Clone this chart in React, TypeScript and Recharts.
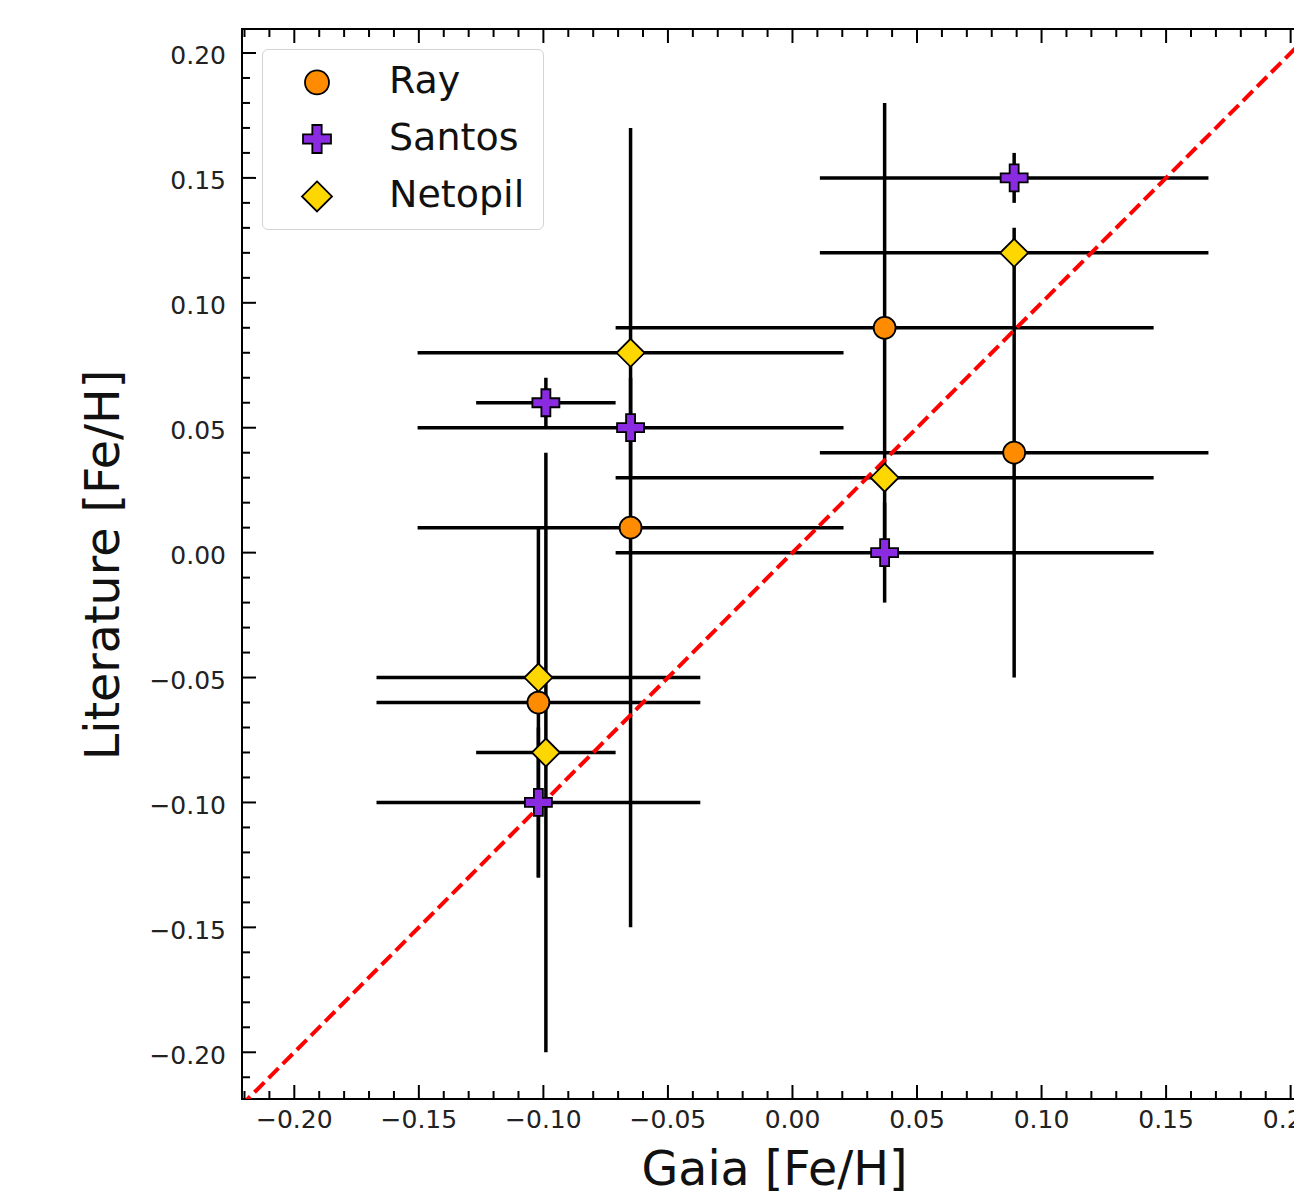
import React from 'react';
import {
  ScatterChart,
  Scatter,
  XAxis,
  YAxis,
  ErrorBar,
  ReferenceLine,
  ReferenceArea,
  Label,
} from 'recharts';

// Ray
const rayX = [-0.102, -0.065, 0.037, 0.089];
const rayY = [-0.06, 0.01, 0.09, 0.04];
const rayXErr = [0.065, 0.0855, 0.108, 0.078];
const rayYErr = [0.07, 0.16, 0.09, 0.09];

// Santos
const santosX = [-0.099, -0.065, 0.037, 0.089, -0.102];
const santosY = [0.06, 0.05, 0.0, 0.15, -0.1];
const santosXErr = [0.028, 0.0855, 0.108, 0.078, 0.065];
const santosYErr = [0.01, 0.02, 0.02, 0.01, 0.03];

// Netopil
const netopilX = [-0.102, -0.099, -0.065, 0.037, 0.089];
const netopilY = [-0.05, -0.08, 0.08, 0.03, 0.12];
const netopilXErr = [0.065, 0.028, 0.0855, 0.108, 0.078];
const netopilYErr = [0, 0.12, 0, 0, 0];

const seriesNames = ['Ray', 'Santos', 'Netopil'];

const xMajorTicks = [-0.2, -0.15, -0.1, -0.05, 0, 0.05, 0.1, 0.15, 0.2];
const yMajorTicks = [-0.2, -0.15, -0.1, -0.05, 0, 0.05, 0.1, 0.15, 0.2];

const X_DOMAIN: [number, number] = [-0.221, 0.215];
const Y_DOMAIN: [number, number] = [-0.2187, 0.2096];
const ONE_TO_ONE = [-0.25, 0.25];

// minor ticks every 0.01
const minorSteps = (lo: number, hi: number) => {
  const out: number[] = [];
  for (let i = Math.ceil(lo * 100 - 1e-6); i <= Math.floor(hi * 100 + 1e-6); i++) out.push(i / 100);
  return out;
};
const xTicks = minorSteps(X_DOMAIN[0], X_DOMAIN[1]);
const yTicks = minorSteps(Y_DOMAIN[0], Y_DOMAIN[1]);

const build = (xs: number[], ys: number[], xe: number[], ye: number[]) =>
  xs.map((x, i) => ({ x, y: ys[i], xErr: xe[i], yErr: ye[i] }));

const rayData = build(rayX, rayY, rayXErr, rayYErr);
const santosData = build(santosX, santosY, santosXErr, santosYErr);
const netopilData = build(netopilX, netopilY, netopilXErr, netopilYErr);

const X_SCALE = 2490; // px per unit
const PLOT_LEFT = 234;
const PLOT_TOP = 21;
const PLOT_W = Math.round((X_DOMAIN[1] - X_DOMAIN[0]) * X_SCALE);
const PLOT_H = 1070;
const PLOT_RIGHT = PLOT_LEFT + PLOT_W;
const PLOT_BOTTOM = PLOT_TOP + PLOT_H;
const CHART_W = PLOT_RIGHT + 10;
const CHART_H = 1187;

const FONT = '"DejaVu Sans", sans-serif';
const MAJOR_LEN = 14;
const MINOR_LEN = 8;

const isMajor = (v: number, majors: number[]) => majors.some((m) => Math.abs(m - v) < 1e-6);
const fmt = (v: number) => {
  const s = Math.abs(v).toFixed(2);
  return v < -1e-9 ? '\u2212' + s : s;
};

const XTick = (props: any) => {
  const { x, payload } = props;
  const v = payload.value;
  const major = isMajor(v, xMajorTicks);
  const len = major ? MAJOR_LEN : MINOR_LEN;
  return (
    <g>
      <line x1={x} x2={x} y1={PLOT_BOTTOM} y2={PLOT_BOTTOM - len} stroke="#000" strokeWidth={2} />
      <line x1={x} x2={x} y1={PLOT_TOP} y2={PLOT_TOP + len} stroke="#000" strokeWidth={2} />
      {major && (
        <text x={x} y={PLOT_BOTTOM + 29} textAnchor="middle" fontSize={25} fontFamily={FONT} fill="#222">
          {fmt(v)}
        </text>
      )}
    </g>
  );
};

const YTick = (props: any) => {
  const { y, payload } = props;
  const v = payload.value;
  const major = isMajor(v, yMajorTicks);
  const len = major ? MAJOR_LEN : MINOR_LEN;
  return (
    <g>
      <line x1={PLOT_LEFT} x2={PLOT_LEFT + len} y1={y} y2={y} stroke="#000" strokeWidth={2} />
      <line x1={PLOT_RIGHT} x2={PLOT_RIGHT - len} y1={y} y2={y} stroke="#000" strokeWidth={2} />
      {major && (
        <text x={PLOT_LEFT - 16} y={y + 11.5} textAnchor="end" fontSize={25} fontFamily={FONT} fill="#222">
          {fmt(v)}
        </text>
      )}
    </g>
  );
};

const COLORS = { ray: '#ff8c00', santos: '#8a2be2', netopil: '#ffd700' };
const EDGE = 1.8;

const plusPoints = (cx: number, cy: number, s: number) => {
  const a = s / 6;
  const b = s / 2;
  const pts = [
    [-a, -b], [a, -b], [a, -a], [b, -a], [b, a], [a, a],
    [a, b], [-a, b], [-a, a], [-b, a], [-b, -a], [-a, -a],
  ];
  return pts.map(([dx, dy]) => `${cx + dx},${cy + dy}`).join(' ');
};

const CircleMark = ({ cx, cy, r = 11 }: any) => (
  <circle cx={cx} cy={cy} r={r} fill={COLORS.ray} stroke="#000" strokeWidth={EDGE} />
);
const PlusMark = ({ cx, cy, s = 27 }: any) => (
  <polygon points={plusPoints(cx, cy, s)} fill={COLORS.santos} stroke="#000" strokeWidth={EDGE} strokeLinejoin="miter" />
);
const DiamondMark = ({ cx, cy, h = 14 }: any) => (
  <polygon
    points={`${cx},${cy - h} ${cx + h},${cy} ${cx},${cy + h} ${cx - h},${cy}`}
    fill={COLORS.netopil}
    stroke="#000"
    strokeWidth={EDGE}
  />
);
const Nothing = () => <g />;

const errProps = { stroke: '#000', strokeWidth: 3.5, width: 0 };

const XLabel = () => (
  <text x={766.5} y={1177} textAnchor="middle" fontSize={47.5} fontFamily={FONT} fill="#111">
    Gaia [Fe/H]
  </text>
);
const YLabel = () => (
  <text
    x={111}
    y={557}
    transform="rotate(-90, 111, 557)"
    textAnchor="middle"
    fontSize={47.5}
    fontFamily={FONT}
    fill="#111"
  >
    Literature [Fe/H]
  </text>
);

const LegendBox = () => {
  const rows = [32.4, 89, 146.4];
  const mx = 54;
  return (
    <div
      style={{
        position: 'absolute',
        left: 254,
        top: 41,
        width: 280,
        height: 179,
        border: '1.5px solid #d4d4d4',
        borderRadius: 6,
        background: 'rgba(255,255,255,0.85)',
      }}
    >
      <svg width={280} height={179} style={{ display: 'block' }}>
        <CircleMark cx={mx} cy={rows[0]} r={12} />
        <PlusMark cx={mx} cy={rows[1]} s={28} />
        <DiamondMark cx={mx} cy={rows[2]} h={15} />
        {seriesNames.map((n, i) => (
          <text key={n} x={126} y={rows[i] + 11} fontSize={38} fontFamily={FONT} fill="#111">
            {n}
          </text>
        ))}
      </svg>
    </div>
  );
};

const App = () => {
  return (
    <div style={{ position: 'relative', width: CHART_W, height: CHART_H, fontFamily: FONT }}>
      <style>{'html, body { overflow: hidden; }'}</style>
      <ScatterChart
        width={CHART_W}
        height={CHART_H}
        margin={{ top: PLOT_TOP, right: CHART_W - PLOT_RIGHT, left: 0, bottom: 0 }}
      >
        <XAxis
          type="number"
          dataKey="x"
          domain={X_DOMAIN}
          allowDataOverflow
          ticks={xTicks}
          interval={0}
          tick={XTick}
          tickLine={false}
          axisLine={false}
          height={CHART_H - PLOT_BOTTOM}
          label={<Label content={XLabel} />}
        />
        <YAxis
          type="number"
          dataKey="y"
          domain={Y_DOMAIN}
          allowDataOverflow
          ticks={yTicks}
          interval={0}
          tick={YTick}
          tickLine={false}
          axisLine={false}
          width={PLOT_LEFT}
          label={<Label content={YLabel} />}
        />
        {/* error bars first so markers sit on top */}
        <Scatter name="Ray-err" data={rayData} shape={Nothing} isAnimationActive={false} legendType="none">
          <ErrorBar dataKey="xErr" direction="x" {...errProps} />
          <ErrorBar dataKey="yErr" direction="y" {...errProps} />
        </Scatter>
        <Scatter name="Santos-err" data={santosData} shape={Nothing} isAnimationActive={false} legendType="none">
          <ErrorBar dataKey="xErr" direction="x" {...errProps} />
          <ErrorBar dataKey="yErr" direction="y" {...errProps} />
        </Scatter>
        <Scatter name="Netopil-err" data={netopilData} shape={Nothing} isAnimationActive={false} legendType="none">
          <ErrorBar dataKey="xErr" direction="x" {...errProps} />
          <ErrorBar dataKey="yErr" direction="y" {...errProps} />
        </Scatter>
        <Scatter name="Ray" data={rayData} shape={CircleMark} isAnimationActive={false} />
        <Scatter name="Santos" data={santosData} shape={PlusMark} isAnimationActive={false} />
        <Scatter name="Netopil" data={netopilData} shape={DiamondMark} isAnimationActive={false} />
        <ReferenceLine
          segment={[
            { x: ONE_TO_ONE[0], y: ONE_TO_ONE[0] },
            { x: ONE_TO_ONE[1], y: ONE_TO_ONE[1] },
          ]}
          ifOverflow="hidden"
          stroke="#ff0000"
          strokeWidth={4}
          strokeDasharray="14 6"
        />
        <ReferenceArea
          x1={X_DOMAIN[0]}
          x2={X_DOMAIN[1]}
          y1={Y_DOMAIN[0]}
          y2={Y_DOMAIN[1]}
          fill="none"
          stroke="#000"
          strokeWidth={2}
          ifOverflow="visible"
        />
      </ScatterChart>
      <LegendBox />
    </div>
  );
};

export default App;
